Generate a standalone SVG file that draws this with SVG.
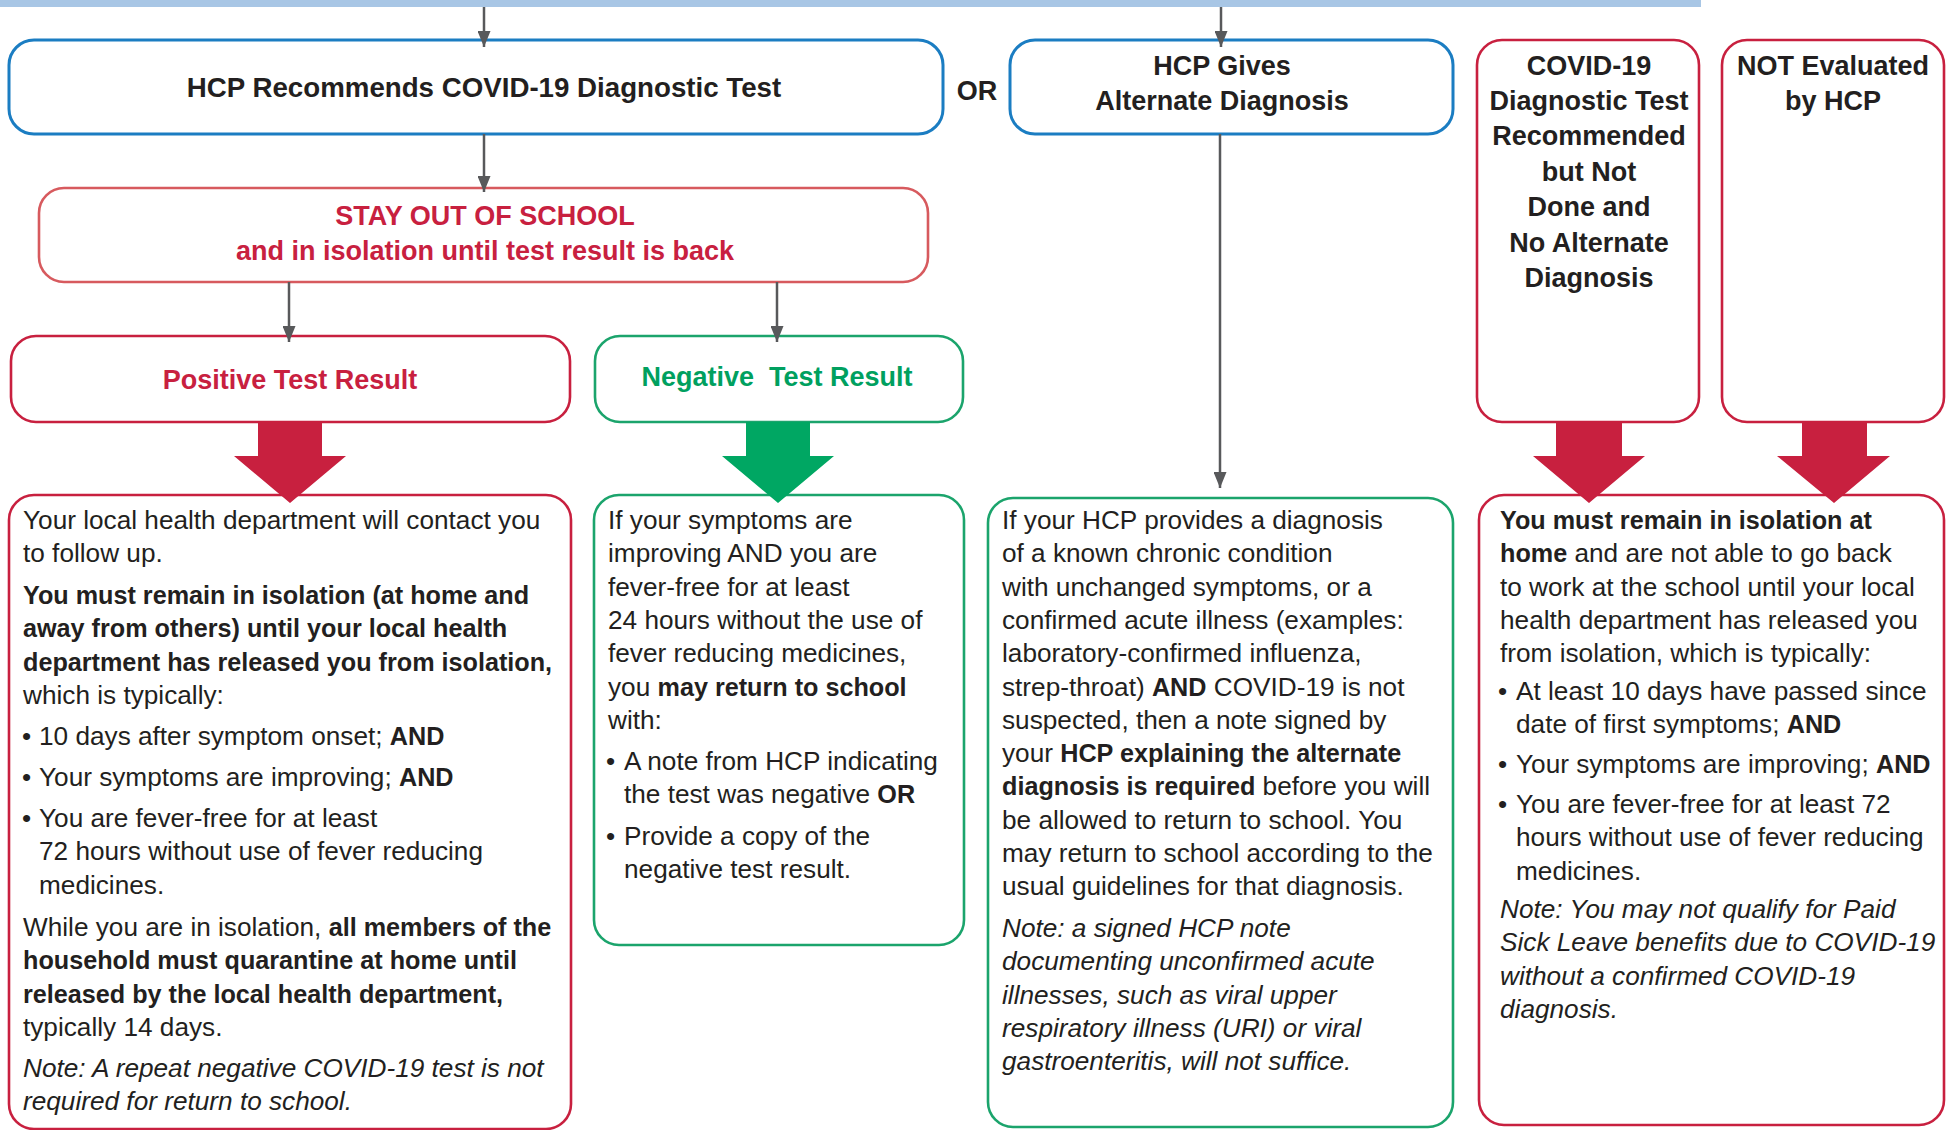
<svg xmlns="http://www.w3.org/2000/svg" width="1949" height="1130" viewBox="0 0 1949 1130">
<style>
text{font-family:"Liberation Sans",Arial,sans-serif;fill:#231f20}
.b{font-size:26.2px}
.bb{font-weight:bold;font-size:25.2px}
.it{font-style:italic}
.h{font-size:27px;font-weight:bold;text-anchor:middle}
.red{fill:#c8203f}
.grn{fill:#00a05f}
.box{fill:#fff;stroke-width:3}
.bl{stroke:#1b7dc2}
.rd{stroke:#c8203f;stroke-width:2.6}
.lr{stroke:#d75a5e;stroke-width:2.6}
.gr{stroke:#1ba46c;stroke-width:2.6}
.con{stroke:#58595b;stroke-width:2.5;fill:none;marker-end:url(#ah)}
</style>
<defs>
<marker id="ah" markerUnits="userSpaceOnUse" markerWidth="16" markerHeight="13" refX="16" refY="6.5" orient="auto">
<path d="M0,0 L16,6.5 L0,13 Z" fill="#58595b"/>
</marker>
</defs>
<rect id="topbar" x="0" y="0" width="1701" height="7" fill="#a8c6e5"/>

<g id="hcp-recommends">
<rect class="box bl" x="9" y="40" width="934" height="94" rx="25"/>
<text class="h" x="484" y="97" style="font-size:27.7px">HCP Recommends COVID-19 Diagnostic Test</text>
</g>
<g id="or-label"><text class="h" x="977" y="100">OR</text></g>
<g id="hcp-gives">
<rect class="box bl" x="1010" y="40" width="443" height="94" rx="25"/>
<text class="h" x="1222" y="75">HCP Gives</text>
<text class="h" x="1222" y="110">Alternate Diagnosis</text>
</g>
<g id="not-done">
<rect class="box rd" x="1477" y="40" width="222" height="382" rx="25"/>
<text class="h" x="1589" y="75">COVID-19</text>
<text class="h" x="1589" y="110">Diagnostic Test</text>
<text class="h" x="1589" y="145">Recommended</text>
<text class="h" x="1589" y="181">but Not</text>
<text class="h" x="1589" y="216">Done and</text>
<text class="h" x="1589" y="252">No Alternate</text>
<text class="h" x="1589" y="287">Diagnosis</text>
</g>
<g id="not-evaluated">
<rect class="box rd" x="1722" y="40" width="222" height="382" rx="25"/>
<text class="h" x="1833" y="75">NOT Evaluated</text>
<text class="h" x="1833" y="110">by HCP</text>
</g>
<g id="stay-out">
<rect class="box lr" x="39" y="188" width="889" height="94" rx="25"/>
<text class="h red" x="485" y="225">STAY OUT OF SCHOOL</text>
<text class="h red" x="485" y="260">and in isolation until test result is back</text>
</g>
<g id="positive">
<rect class="box rd" x="11" y="336" width="559" height="86" rx="25"/>
<text class="h red" x="290" y="389">Positive Test Result</text>
</g>
<g id="negative">
<rect class="box gr" x="595" y="336" width="368" height="86" rx="25"/>
<text class="h grn" x="777" y="386" style="white-space:pre">Negative  Test Result</text>
</g>

<g id="positive-detail">
<rect class="box rd" x="9" y="495" width="562" height="634" rx="25"/>
<g class="b">
<text x="23" y="529">Your local health department will contact you</text>
<text x="23" y="562.3">to follow up.</text>
<text x="23" y="604"><tspan class="bb">You must remain in isolation (at home and</tspan></text>
<text x="23" y="637.3"><tspan class="bb">away from others) until your local health</tspan></text>
<text x="23" y="670.6"><tspan class="bb">department has released you from isolation,</tspan></text>
<text x="23" y="703.9">which is typically:</text>
<text x="22" y="745">•</text><text x="39" y="745">10 days after symptom onset; <tspan class="bb">AND</tspan></text>
<text x="22" y="786">•</text><text x="39" y="786">Your symptoms are improving; <tspan class="bb">AND</tspan></text>
<text x="22" y="827">•</text><text x="39" y="827">You are fever-free for at least</text>
<text x="39" y="860.3">72 hours without use of fever reducing</text>
<text x="39" y="893.6">medicines.</text>
<text x="23" y="936">While you are in isolation, <tspan class="bb">all members of the</tspan></text>
<text x="23" y="969.3"><tspan class="bb">household must quarantine at home until</tspan></text>
<text x="23" y="1002.6"><tspan class="bb">released by the local health department,</tspan></text>
<text x="23" y="1035.9">typically 14 days.</text>
<text class="it" x="23" y="1077">Note: A repeat negative COVID-19 test is not</text>
<text class="it" x="23" y="1110.3">required for return to school.</text>
</g>
</g>

<g id="negative-detail">
<rect class="box gr" x="594" y="495" width="370" height="450" rx="25"/>
<g class="b">
<text x="608" y="529">If your symptoms are</text>
<text x="608" y="562.3">improving AND you are</text>
<text x="608" y="595.6">fever-free for at least</text>
<text x="608" y="628.9">24 hours without the use of</text>
<text x="608" y="662.2">fever reducing medicines,</text>
<text x="608" y="695.5">you <tspan class="bb">may return to school</tspan></text>
<text x="608" y="728.8">with:</text>
<text x="606" y="770">•</text><text x="624" y="770">A note from HCP indicating</text>
<text x="624" y="803.3">the test was negative <tspan class="bb">OR</tspan></text>
<text x="606" y="845">•</text><text x="624" y="845">Provide a copy of the</text>
<text x="624" y="878.3">negative test result.</text>
</g>
</g>

<g id="alternate-detail">
<rect class="box gr" x="988" y="498" width="465" height="629" rx="25"/>
<g class="b">
<text x="1002" y="529">If your HCP provides a diagnosis</text>
<text x="1002" y="562.3">of a known chronic condition</text>
<text x="1002" y="595.6">with unchanged symptoms, or a</text>
<text x="1002" y="628.9">confirmed acute illness (examples:</text>
<text x="1002" y="662.2">laboratory-confirmed influenza,</text>
<text x="1002" y="695.5">strep-throat) <tspan class="bb">AND</tspan> COVID-19 is not</text>
<text x="1002" y="728.8">suspected, then a note signed by</text>
<text x="1002" y="762.1">your <tspan class="bb">HCP explaining the alternate</tspan></text>
<text x="1002" y="795.4"><tspan class="bb">diagnosis is required</tspan> before you will</text>
<text x="1002" y="828.7">be allowed to return to school. You</text>
<text x="1002" y="862">may return to school according to the</text>
<text x="1002" y="895.3">usual guidelines for that diagnosis.</text>
<text class="it" x="1002" y="937">Note: a signed HCP note</text>
<text class="it" x="1002" y="970.3">documenting unconfirmed acute</text>
<text class="it" x="1002" y="1003.6">illnesses, such as viral upper</text>
<text class="it" x="1002" y="1036.9">respiratory illness (URI) or viral</text>
<text class="it" x="1002" y="1070.2">gastroenteritis, will not suffice.</text>
</g>
</g>

<g id="isolation-detail">
<rect class="box rd" x="1479" y="495" width="465" height="630" rx="25"/>
<g class="b">
<text x="1500" y="529"><tspan class="bb">You must remain in isolation at</tspan></text>
<text x="1500" y="562.3"><tspan class="bb">home</tspan> and are not able to go back</text>
<text x="1500" y="595.6">to work at the school until your local</text>
<text x="1500" y="628.9">health department has released you</text>
<text x="1500" y="662.2">from isolation, which is typically:</text>
<text x="1498" y="700">•</text><text x="1516" y="700">At least 10 days have passed since</text>
<text x="1516" y="733.3">date of first symptoms; <tspan class="bb">AND</tspan></text>
<text x="1498" y="773">•</text><text x="1516" y="773">Your symptoms are improving; <tspan class="bb">AND</tspan></text>
<text x="1498" y="813">•</text><text x="1516" y="813">You are fever-free for at least 72</text>
<text x="1516" y="846.3">hours without use of fever reducing</text>
<text x="1516" y="879.6">medicines.</text>
<text class="it" x="1500" y="918">Note: You may not qualify for Paid</text>
<text class="it" x="1500" y="951.3">Sick Leave benefits due to COVID-19</text>
<text class="it" x="1500" y="984.6">without a confirmed COVID-19</text>
<text class="it" x="1500" y="1017.9">diagnosis.</text>
</g>
</g>

<g id="connectors">
<line class="con" x1="484" y1="7" x2="484" y2="47"/>
<line class="con" x1="1221" y1="7" x2="1221" y2="47"/>
<line class="con" x1="484" y1="134" x2="484" y2="192"/>
<line class="con" x1="289" y1="282" x2="289" y2="342"/>
<line class="con" x1="777" y1="282" x2="777" y2="342"/>
<line class="con" x1="1220" y1="134" x2="1220" y2="488"/>
<path fill="#c8203f" d="M258,422 H322 V456 H346 L290,503 L234,456 H258 Z"/>
<path fill="#00a763" d="M746,422 H810 V456 H834 L778,503 L722,456 H746 Z"/>
<path fill="#c8203f" d="M1556,422 H1622 V456 H1645 L1589,503 L1533,456 H1556 Z"/>
<path fill="#c8203f" d="M1802,422 H1867 V456 H1890 L1834,503 L1777,456 H1802 Z"/>
</g>
</svg>
